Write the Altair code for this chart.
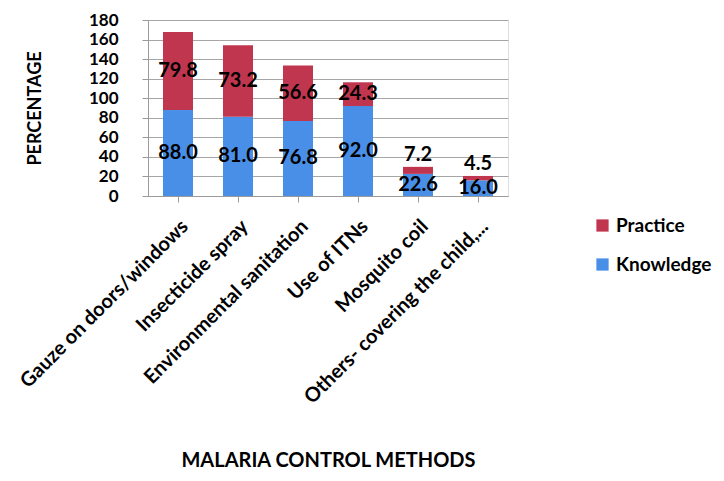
import altair as alt
import pandas as pd

categories = ["Gauze on doors/windows", "Insecticide spray", "Environmental sanitation",
              "Use of ITNs", "Mosquito coil", "Others- covering the child,..."]
knowledge = [88.0, 81.0, 76.8, 92.0, 22.6, 16.0]
practice = [79.8, 73.2, 56.6, 24.3, 7.2, 4.5]
series_names = ["Practice", "Knowledge"]
series_colors = ["#C1364F", "#4A8FE7"]
y_ticks = [0, 20, 40, 60, 80, 100, 120, 140, 160, 180]

rows = []
for c, k, p in zip(categories, knowledge, practice):
    rows.append({"cat": c, "series": "Knowledge", "value": k, "start": 0.0, "end": k,
                 "label_y": k / 2})
    rows.append({"cat": c, "series": "Practice", "value": p, "start": k, "end": k + p,
                 "label_y": (k + p / 2) if p >= 15 else (k + p + 12)})
df = pd.DataFrame(rows)

FONT = "Lato"

x_axis = alt.Axis(title="MALARIA CONTROL METHODS", labelAngle=-45, labelFontSize=20,
                  labelFontWeight="bold", labelFont=FONT, labelColor="black",
                  labelLimit=400, labelOverlap=False, labelPadding=14,
                  titleFont=FONT, titleFontSize=20,
                  titleFontWeight="bold", titleColor="black", titleY=254,
                  domainColor="#9a9a9a", tickColor="#9a9a9a", tickSize=6)
y_axis = alt.Axis(title="PERCENTAGE", values=y_ticks, labelFontSize=17,
                  labelFontWeight="bold", labelFont=FONT, labelColor="black",
                  labelOverlap=False, labelBound=False, labelFlush=False,
                  titleFont=FONT, titleFontSize=18, titleFontWeight="bold",
                  titleColor="black", titleX=-104, gridColor="#a6a6a6",
                  domainColor="#9a9a9a", tickColor="#9a9a9a", tickSize=6,
                  labelPadding=24)
y_scale = alt.Scale(domain=[0, 180])

base = alt.Chart(df)

bars = base.mark_bar(width=30).encode(
    x=alt.X("cat:N", sort=categories, axis=x_axis),
    y=alt.Y("start:Q", scale=y_scale, axis=y_axis),
    y2="end:Q",
    color=alt.Color("series:N", scale=alt.Scale(domain=series_names, range=series_colors),
                    legend=alt.Legend(title=None, orient="none", legendX=445, legendY=196,
                                      labelFont=FONT, labelFontSize=19,
                                      labelFontWeight="bold", labelColor="black",
                                      symbolType="square", symbolSize=150,
                                      symbolStrokeWidth=0, rowPadding=19)),
)

labels = base.mark_text(font=FONT, fontSize=20, fontWeight="bold", color="black",
                        baseline="middle").encode(
    x=alt.X("cat:N", sort=categories, axis=x_axis),
    y=alt.Y("label_y:Q", scale=y_scale, axis=y_axis),
    text=alt.Text("value:Q", format=".1f"),
)

chart = (bars + labels).properties(
    width=360, height=176,
    autosize=alt.AutoSizeParams(type="none"),
    padding={"left": 140, "top": 12, "right": 208, "bottom": 277},
).configure_view(stroke=None).configure(background="white")

chart.save("out.html", embed_options={"renderer": "svg", "actions": False})
